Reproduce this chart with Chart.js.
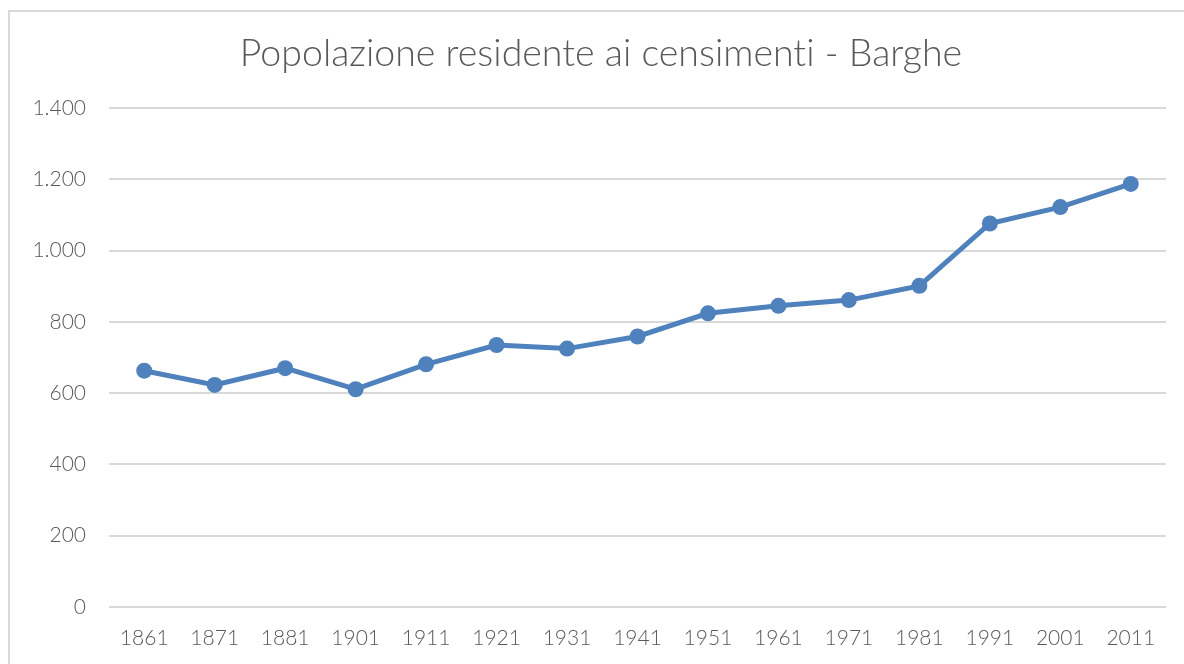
<!DOCTYPE html>
<html lang="it">
<head>
<meta charset="utf-8">
<title>Popolazione residente ai censimenti - Barghe</title>
<script src="https://cdn.jsdelivr.net/npm/chart.js@4/dist/chart.umd.min.js"></script>
<style>
    html, body { margin: 0; padding: 0; background: #fff; overflow: hidden; }
    #wrap { position: relative; width: 1184px; height: 664px; }
    #frame {
        position: absolute; left: 8px; top: 10px; width: 1200px; height: 700px;
        border-top: 2px solid #d9d9d9; border-left: 2px solid #d9d9d9;
    }
    #title {
        position: absolute; left: 8px; width: 1186px; top: 30px;
        text-align: center; font-family: Lato, sans-serif; font-weight: 300;
        font-size: 37.5px; color: #595959; line-height: 44px;
        font-variant-ligatures: none; font-feature-settings: "liga" 0;
    }
    canvas { position: absolute; left: 0; top: 0; }
</style>
</head>
<body>
<div id="wrap">
    <div id="frame"></div>
    <canvas id="popChart" width="1184" height="664"></canvas>
    <div id="title">Popolazione residente ai censimenti - Barghe</div>
</div>
<script>
// Census years and resident population
const years = ['1861', '1871', '1881', '1901', '1911', '1921', '1931', '1941',
               '1951', '1961', '1971', '1981', '1991', '2001', '2011'];
const population = [663, 623, 670, 611, 681, 735, 725, 759,
                    824, 845, 861, 901, 1076, 1122, 1187];
const yTicks = [0, 200, 400, 600, 800, 1000, 1200, 1400];

const textColor = '#595959';
const gridColor = '#d9d9d9';
const lineColor = '#4f81bd';

// Italian thousands separator
function formatIt(v) {
    return String(v).replace(/\B(?=(\d{3})+(?!\d))/g, '.');
}

document.addEventListener('DOMContentLoaded', function() {
    const ctx = document.getElementById('popChart').getContext('2d');
    new Chart(ctx, {
        type: 'line',
        data: {
            labels: years,
            datasets: [{
                label: 'Popolazione',
                data: population,
                borderColor: lineColor,
                backgroundColor: lineColor,
                borderWidth: 5,
                pointRadius: 8,
                pointHoverRadius: 8,
                pointBorderWidth: 0,
                tension: 0
            }]
        },
        options: {
            responsive: false,
            animation: false,
            layout: { padding: { top: 108, right: 18, bottom: 0, left: 0 } },
            plugins: {
                legend: { display: false },
                title: { display: false },
                tooltip: { enabled: false }
            },
            scales: {
                x: {
                    offset: true,
                    grid: { display: false, drawTicks: false },
                    border: { display: false },
                    ticks: {
                        color: textColor,
                        padding: 19,
                        maxRotation: 0,
                        autoSkip: false,
                        font: { family: 'Lato', weight: 300, size: 21 }
                    },
                    afterFit: function(scale) { scale.height = 57; }
                },
                y: {
                    min: 0,
                    max: 1400,
                    afterBuildTicks: function(scale) {
                        scale.ticks = yTicks.map(v => ({ value: v }));
                    },
                    grid: { color: gridColor, lineWidth: 2, drawTicks: false },
                    border: { display: false },
                    ticks: {
                        color: textColor,
                        padding: 23,
                        font: { family: 'Lato', weight: 300, size: 21 },
                        callback: function(value) { return formatIt(value); }
                    },
                    afterFit: function(scale) { scale.width = 109; }
                }
            }
        }
    });
});
</script>
</body>
</html>
